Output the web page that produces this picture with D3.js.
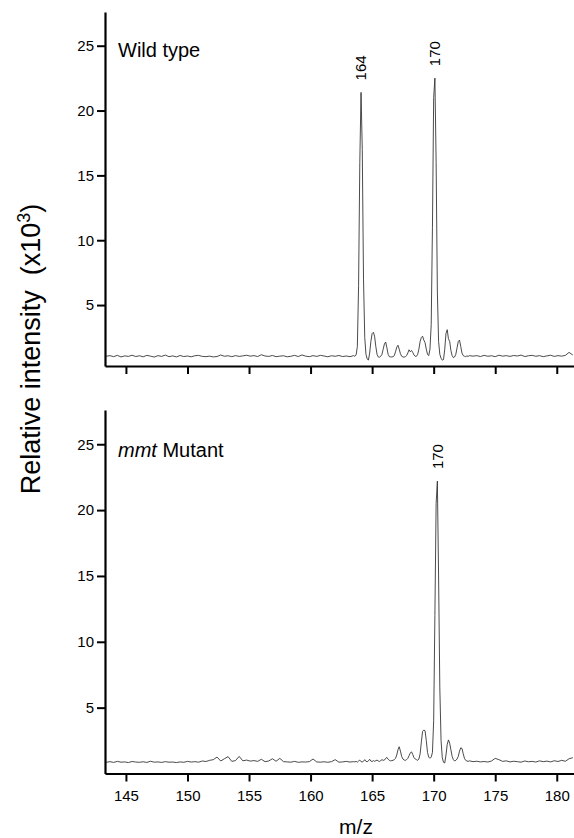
<!DOCTYPE html>
<html>
<head>
<meta charset="utf-8">
<script src="https://cdn.jsdelivr.net/npm/d3@7"></script>
<style>
   body { margin: 0; background: #fff; }
   text { font-family: "Liberation Sans", Arial, sans-serif; fill: #000; }
</style>
</head>
<body>
<div id="spectra"></div>
<script>
const width = 574,
   height = 838,
   axisLeftX = 105,
   tickLength = 8;

// m/z sampling grid (coarse on the flat baseline, fine around the peaks)
const mz = [
   143.4,143.7,144.0,144.3,144.6,144.9,145.2,145.5,145.8,146.1,
   146.4,146.7,147.0,147.3,147.6,147.9,148.2,148.5,148.8,149.1,
   149.4,149.7,150.0,150.3,150.6,150.9,151.2,151.5,151.8,152.1,
   152.4,152.7,153.0,153.3,153.6,153.9,154.2,154.5,154.8,155.1,
   155.4,155.7,156.0,156.3,156.6,156.9,157.2,157.5,157.8,158.1,
   158.4,158.7,159.0,159.3,159.6,159.9,160.2,160.5,160.8,161.1,
   161.4,161.7,162.0,162.3,162.6,162.9,163.2,163.5,
   163.6,163.7,163.8,163.9,164.0,164.1,164.2,164.3,164.4,164.5,
   164.6,164.7,164.8,164.9,165.0,165.1,165.2,165.3,165.4,165.5,
   165.6,165.7,165.8,165.9,166.0,166.1,166.2,166.3,166.4,166.5,
   166.6,166.7,166.8,166.9,167.0,167.1,167.2,167.3,167.4,167.5,
   167.6,167.7,167.8,167.9,168.0,168.1,168.2,168.3,168.4,168.5,
   168.6,168.7,168.8,168.9,169.0,169.1,169.2,169.3,169.4,169.5,
   169.6,169.7,169.8,169.9,170.0,170.1,170.2,170.3,170.4,170.5,
   170.6,170.7,170.8,170.9,171.0,171.1,171.2,171.3,171.4,171.5,
   171.6,171.7,171.8,171.9,172.0,172.1,172.2,172.3,172.4,172.5,
   172.6,172.7,172.8,172.9,
   173.2,173.5,173.8,174.1,174.4,174.7,175.0,175.3,175.6,175.9,
   176.2,176.5,176.8,177.1,177.4,177.7,178.0,178.3,178.6,178.9,
   179.2,179.5,179.8,180.1,180.4,180.7,181.0,181.3
];

// relative intensity (x10^3)
const wildType = [
   1.05,1.10,1.02,1.12,1.00,1.08,1.04,1.13,1.03,1.09,
   1.01,1.12,1.06,0.99,1.10,1.04,1.14,1.02,1.08,1.00,
   1.11,1.03,1.07,1.01,1.09,1.12,1.04,1.02,1.06,1.00,
   1.03,1.15,1.05,1.09,1.02,1.10,1.04,1.08,1.13,1.06,
   1.10,1.03,1.17,1.07,1.04,1.11,1.02,1.06,1.09,1.01,
   1.05,1.12,1.03,1.15,1.06,1.02,1.10,1.04,1.12,1.07,
   1.01,1.09,1.05,1.11,1.03,1.07,1.02,1.10,
   1.05,1.15,1.8,6.5,16,21.4,17,7,2.5,1.2,
   0.85,0.75,1.3,2.2,2.8,2.9,2.6,1.8,1.2,1.0,
   0.98,1.05,1.2,1.6,2.0,2.15,1.7,1.2,1.02,1.0,
   1.0,1.02,1.1,1.4,1.75,1.9,1.6,1.25,1.05,1.0,
   0.98,1.02,1.1,1.3,1.55,1.4,1.5,1.35,1.15,1.05,
   1.05,1.2,1.6,2.2,2.5,2.6,2.3,2.1,1.6,1.2,
   1.1,1.6,3.5,11,21,22.5,16,6,2.2,1.2,
   0.9,0.75,0.8,1.6,2.8,3.1,2.4,2.2,1.5,1.1,
   0.95,1.0,1.2,1.7,2.2,2.3,1.8,1.3,1.1,1.05,
   1.02,1.08,1.04,1.1,
   1.06,1.10,1.03,1.12,1.05,1.09,1.02,1.13,1.06,1.10,
   1.04,1.11,1.07,1.14,1.03,1.09,1.12,1.05,1.10,1.02,
   1.08,1.13,1.04,1.10,1.06,1.12,1.35,1.15
];

const mmtMutant = [
   0.85,0.90,0.84,0.92,0.86,0.88,0.83,0.91,0.87,0.85,
   0.89,0.84,0.93,0.86,0.88,0.84,0.90,0.86,0.87,0.83,
   0.88,0.85,0.92,0.87,0.90,0.86,0.95,0.91,1.00,1.05,
   1.25,0.95,1.12,1.28,0.92,0.98,1.30,0.96,1.02,0.94,
   0.98,0.92,1.08,0.90,0.95,1.12,0.93,1.15,0.90,0.88,
   0.86,0.92,0.85,0.88,0.87,0.90,1.10,0.88,0.86,0.89,
   0.85,0.90,1.05,0.86,0.88,0.92,0.87,0.90,
   0.88,0.92,0.86,0.95,1.02,0.90,0.88,0.93,1.05,0.92,
   0.90,0.96,1.08,0.94,0.91,0.98,0.93,0.97,1.02,0.95,
   0.92,0.98,1.05,1.00,1.02,1.15,1.22,1.08,1.00,0.96,
   0.98,1.0,1.05,1.15,1.4,1.8,2.03,1.7,1.3,1.1,
   1.02,1.0,1.05,1.15,1.35,1.55,1.65,1.45,1.2,1.1,
   1.05,1.0,1.1,1.5,2.4,3.2,3.3,3.25,2.5,1.6,
   1.25,1.15,1.25,1.6,4,12,20.5,22.2,15,6.5,
   2.5,1.2,0.85,0.8,1.4,2.2,2.55,2.3,1.8,1.3,
   1.05,0.95,1.0,1.1,1.3,1.7,1.95,1.9,1.5,1.15,
   1.0,0.95,0.92,0.96,
   0.90,0.93,0.88,0.91,0.87,0.95,1.15,1.05,0.92,0.96,
   0.88,0.93,0.90,0.86,0.95,0.89,0.92,0.87,0.96,0.90,
   0.94,0.88,0.97,0.91,1.00,0.93,1.12,1.20
];

const yTicks = [5, 10, 15, 20, 25],
   xTicks = [145, 150, 155, 160, 165, 170, 175, 180],
   wildPeaks = [{mz: 164.1, value: 21.4, label: '164'}, {mz: 170.1, value: 22.5, label: '170'}],
   mutantPeaks = [{mz: 170.3, value: 22.2, label: '170'}];

const panels = [
   {series: wildType, peaks: wildPeaks, top: 12, bottom: 366, yMin: 0.3, showTickLabels: false},
   {series: mmtMutant, peaks: mutantPeaks, top: 410, bottom: 773.5, yMin: 0, showTickLabels: true}
];

const svg = d3.select('#spectra')
   .append('svg')
   .attr('viewBox', [0, 0, width, height])
   .attr('width', width)
   .attr('height', height);

const xScale = d3.scaleLinear()
   .domain([143.3, 181.4])
   .range([axisLeftX, width]);

panels.forEach(panel => {
   const yScale = d3.scaleLinear()
      .domain([panel.yMin, 27.6])
      .range([panel.bottom, panel.top]);

   const line = d3.line()
      .x((d, i) => xScale(mz[i]))
      .y(d => yScale(d));

   svg.append('path')
      .datum(panel.series)
      .attr('fill', 'none')
      .attr('stroke', '#2a2a2a')
      .attr('stroke-width', 0.85)
      .attr('stroke-linejoin', 'round')
      .attr('d', line);

   const xAxis = svg.append('g')
      .attr('transform', `translate(0, ${panel.bottom})`)
      .call(d3.axisBottom(xScale)
         .tickValues(xTicks)
         .tickSize(tickLength)
         .tickSizeOuter(0)
         .tickPadding(9)
         .tickFormat(panel.showTickLabels ? d3.format('d') : ''));

   const yAxis = svg.append('g')
      .attr('transform', `translate(${axisLeftX}, 0)`)
      .call(d3.axisLeft(yScale)
         .tickValues(yTicks)
         .tickSize(tickLength)
         .tickSizeOuter(0)
         .tickPadding(3));

   [xAxis, yAxis].forEach(axis => {
      axis.select('.domain').attr('stroke', '#000').attr('stroke-width', 2.2);
      axis.selectAll('.tick line').attr('stroke', '#000').attr('stroke-width', 2);
      axis.selectAll('.tick text')
         .attr('font-family', '"Liberation Sans", Arial, sans-serif')
         .attr('font-size', 15)
         .attr('fill', '#000');
   });

   svg.selectAll(null)
      .data(panel.peaks)
      .join('text')
      .attr('transform', d => `translate(${xScale(d.mz)}, ${yScale(d.value) - 12}) rotate(-90)`)
      .attr('dy', '0.36em')
      .attr('font-size', 15)
      .text(d => d.label);
});

svg.append('text')
   .attr('x', 118)
   .attr('y', 57)
   .attr('font-size', 20)
   .text('Wild type');

const mutantTitle = svg.append('text')
   .attr('x', 118)
   .attr('y', 457)
   .attr('font-size', 20);

mutantTitle.append('tspan')
   .attr('font-style', 'italic')
   .text('mmt');

mutantTitle.append('tspan')
   .text(' Mutant');

const yLabel = svg.append('text')
   .attr('transform', 'translate(40, 349) rotate(-90)')
   .attr('text-anchor', 'middle')
   .attr('font-size', 27)
   .style('white-space', 'pre');

yLabel.append('tspan').text('Relative intensity  (x10');
yLabel.append('tspan')
   .attr('dy', -10)
   .attr('font-size', 18)
   .text('3');
yLabel.append('tspan')
   .attr('dy', 10)
   .text(')');

svg.append('text')
   .attr('x', 356)
   .attr('y', 834)
   .attr('text-anchor', 'middle')
   .attr('font-size', 21)
   .text('m/z');
</script>
</body>
</html>
